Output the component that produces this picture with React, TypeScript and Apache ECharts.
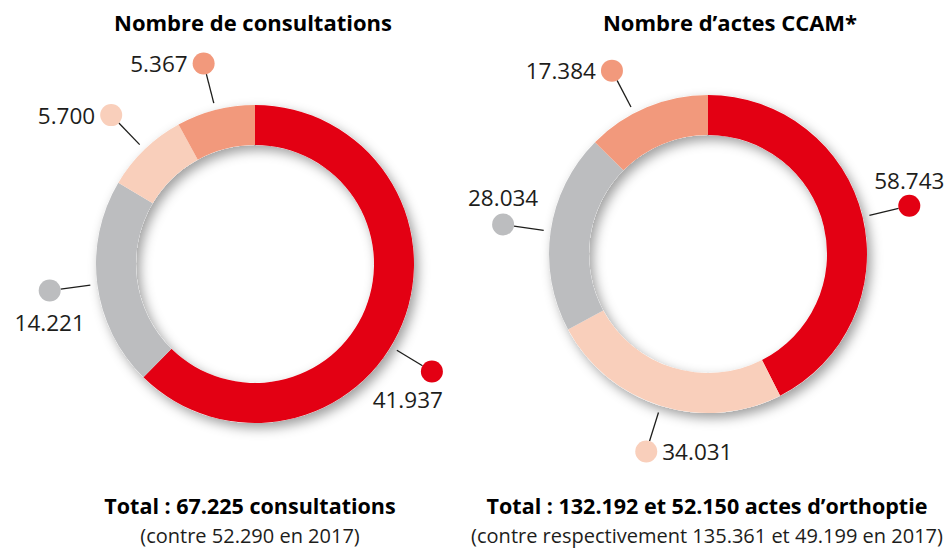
import { useEffect, useRef } from 'react';
import * as echarts from 'echarts';

// ---------- data ----------
const consultNames = ['Segment rouge', 'Segment gris', 'Segment rose clair', 'Segment saumon'];
const consultValues = [41937, 14221, 5700, 5367];
const ccamNames = ['Segment rouge', 'Segment rose clair', 'Segment gris', 'Segment saumon'];
const ccamValues = [58743, 34031, 28034, 17384];
const chartTitles = ['Nombre de consultations', 'Nombre d’actes CCAM*'];
const totalTexts = ['Total : 67.225 consultations', 'Total : 132.192 et 52.150 actes d’orthoptie'];
const compareTexts = ['(contre 52.290 en 2017)', '(contre respectivement 135.361 et 49.199 en 2017)'];

// ---------- styles / layout ----------
const RED = '#e30013';
const GREY = '#bcbdbf';
const PINK = '#f9cfbb';
const SALMON = '#f2997c';
const consultColors = [RED, GREY, PINK, SALMON];
const ccamColors = [RED, PINK, GREY, SALMON];

const FONT = "'Open Sans', 'Noto Sans', sans-serif";
const TEXT = '#1d1d1b';
const OUTER = 159;
const INNER = 119;
const LINE_START = 166;
const LINE_END = 196;
const DOT_R = 11;
const CENTERS = [[255, 264], [708, 254]];
const TITLE_X = [253, 730];
const TOTAL_X = [250, 707];

type Spec = { pos: 'left' | 'right' | 'above' | 'below' | 'belowRight'; lh: number; shift: number };
const LABEL_SPECS: Spec[][] = [
  [
    { pos: 'belowRight', lh: 34, shift: 9 },
    { pos: 'below', lh: 42, shift: 0 },
    { pos: 'left', lh: 24, shift: 0 },
    { pos: 'left', lh: 24, shift: 0 },
  ],
  [
    { pos: 'above', lh: 29, shift: 0 },
    { pos: 'right', lh: 24, shift: 0 },
    { pos: 'above', lh: 31, shift: 0 },
    { pos: 'left', lh: 24, shift: -5 },
  ],
];

const fmt = (v: number) => String(v).replace(/\B(?=(\d{3})+(?!\d))/g, '.');

function ringSeries(k: number, names: string[], values: number[], colors: string[]) {
  const specs = LABEL_SPECS[k];
  const center = CENTERS[k];
  const rich: any = { g: { width: 5, height: 22 } };
  colors.forEach((c, i) => {
    rich['d' + i] = { width: 2 * DOT_R, height: 2 * DOT_R, lineHeight: 2 * DOT_R, borderRadius: DOT_R, backgroundColor: c };
  });
  specs.forEach((s) => {
    rich['t' + s.lh] = { fontSize: 22.5, fontWeight: 'normal', lineHeight: s.lh, color: TEXT, fontFamily: FONT };
  });
  const data = values.map((v, i) => {
    const s = specs[i];
    const d = `{d${i}|}`;
    const t = `{t${s.lh}|${fmt(v)}}`;
    let f = '';
    if (s.pos === 'left') f = `${t}{g|}${d}`;
    else if (s.pos === 'right') f = `${d}{g|}${t}`;
    else if (s.pos === 'above') f = `${t}\n${d}`;
    else f = `${d}\n${t}`;
    return { name: names[i], value: v, itemStyle: { color: colors[i] }, label: { formatter: f } };
  });
  return {
    type: 'pie',
    center,
    radius: [INNER, OUTER],
    startAngle: 90,
    clockwise: true,
    avoidLabelOverlap: false,
    z: 3,
    itemStyle: { borderWidth: 0 },
    emphasis: { disabled: true },
    label: { show: true, position: 'outside', rich, fontFamily: FONT, color: TEXT },
    labelLine: { show: true, length: 30, length2: 0, lineStyle: { color: TEXT, width: 1.3 } },
    labelLayout: (p: any) => {
      const pts = p.labelLinePoints;
      if (!pts || !pts.length) return {};
      const s = specs[p.dataIndex];
      const [cx, cy] = center;
      const a0 = Math.atan2(pts[0][1] - cy, pts[0][0] - cx);
      const a = a0 + (s.shift * Math.PI) / 180;
      const ux = Math.cos(a);
      const uy = Math.sin(a);
      const p0 = [cx + ux * LINE_START, cy + uy * LINE_START];
      const p1 = [cx + ux * LINE_END, cy + uy * LINE_END];
      const dx = cx + ux * (LINE_END + DOT_R);
      const dy = cy + uy * (LINE_END + DOT_R);
      let x = dx, y = dy, align = 'center', verticalAlign = 'middle';
      if (s.pos === 'left') { x = dx + DOT_R; align = 'right'; }
      else if (s.pos === 'right') { x = dx - DOT_R; align = 'left'; }
      else if (s.pos === 'above') { y = dy + DOT_R; verticalAlign = 'bottom'; }
      else if (s.pos === 'below') { y = dy - DOT_R; verticalAlign = 'top'; }
      else { x = dx + DOT_R; y = dy - DOT_R; align = 'right'; verticalAlign = 'top'; }
      return { x, y, align, verticalAlign, labelLinePoints: [p0, p1] };
    },
    data,
  };
}

function shadowSeries(k: number) {
  return {
    type: 'pie',
    center: CENTERS[k],
    radius: [INNER, OUTER],
    silent: true,
    z: 1,
    label: { show: false },
    labelLine: { show: false },
    emphasis: { disabled: true },
    itemStyle: {
      color: '#ffffff',
      shadowBlur: 12,
      shadowColor: 'rgba(0,0,0,0.38)',
      shadowOffsetX: 4,
      shadowOffsetY: 5,
    },
    data: [{ name: 'ombre', value: 1 }],
  };
}

function titleItem(text: string, x: number, top: number, size: number, bold: boolean) {
  return {
    text,
    left: x,
    top,
    padding: 0,
    textAlign: 'center',
    textStyle: { fontFamily: FONT, fontSize: size, fontWeight: bold ? 'bold' : 'normal', color: bold ? '#000000' : TEXT, lineHeight: 24 },
  };
}

export default function App() {
  const ref = useRef<HTMLDivElement>(null);
  useEffect(() => {
    if (!ref.current) return;
    const chart = echarts.init(ref.current, null, { renderer: 'svg' });
    chart.setOption({
      animation: false,
      backgroundColor: '#ffffff',
      title: [
        titleItem(chartTitles[0], TITLE_X[0], 10, 22, true),
        titleItem(chartTitles[1], TITLE_X[1], 10, 22, true),
        titleItem(totalTexts[0], TOTAL_X[0], 493, 21.5, true),
        titleItem(totalTexts[1], TOTAL_X[1], 493, 21.5, true),
        titleItem(compareTexts[0], TOTAL_X[0], 523, 20, false),
        titleItem(compareTexts[1], TOTAL_X[1], 523, 20, false),
      ],
      series: [
        shadowSeries(0),
        shadowSeries(1),
        ringSeries(0, consultNames, consultValues, consultColors),
        ringSeries(1, ccamNames, ccamValues, ccamColors),
      ],
    });
    return () => chart.dispose();
  }, []);
  return <div ref={ref} style={{ position: 'absolute', left: 0, top: 0, width: 949, height: 553 }} />;
}
